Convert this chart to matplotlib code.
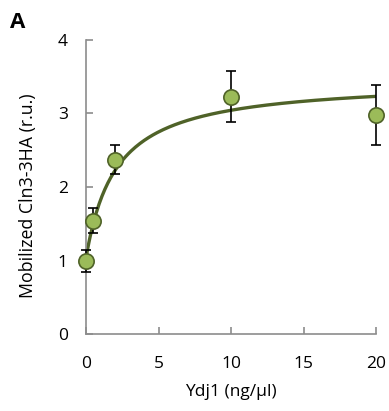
import numpy as np
import matplotlib.pyplot as plt

plt.rcParams['font.family'] = ['Open Sans', 'DejaVu Sans']

# measured points
ydj1 = [0, 0.5, 2, 10, 20]
mobilized = [1.0, 1.54, 2.37, 3.23, 2.98]
err = [0.15, 0.17, 0.2, 0.35, 0.41]

# hyperbolic fit: y = base + bmax*x/(kd+x)
fit_base, fit_bmax, fit_kd = 1.03, 2.43, 2.07

fig = plt.figure(figsize=(3.89, 4.11), dpi=100)
ax = fig.add_axes([0.221, 0.187, 0.746, 0.716])

xs = np.linspace(0, 20, 200)
ax.plot(xs, fit_base + fit_bmax * xs / (fit_kd + xs), color='#4F6228', lw=2.4, zorder=2)
ax.errorbar(ydj1, mobilized, yerr=err, fmt='none', ecolor='black', elinewidth=1.2,
            capsize=3.5, capthick=1.2, zorder=3, clip_on=False)
ax.plot(ydj1, mobilized, 'o', ms=11, mfc='#9BBB59', mec='#4F6228', mew=1.2,
        zorder=4, clip_on=False)

ax.set_xlim(0, 20)
ax.set_ylim(0, 4)
ax.set_xticks([0, 5, 10, 15, 20])
ax.set_yticks([0, 1, 2, 3, 4])
for s in ['top', 'right']:
    ax.spines[s].set_visible(False)
for s in ['left', 'bottom']:
    ax.spines[s].set_color('#8c8c8c')
    ax.spines[s].set_linewidth(1.2)
ax.tick_params(axis='both', direction='in', length=5, width=1.2, color='#8c8c8c',
               labelsize=12.5)
ax.tick_params(axis='y', pad=13)
ax.tick_params(axis='x', pad=15.5)

ax.set_xlabel('Ydj1 (ng/µl)', fontsize=12.5, labelpad=9)
ax.set_ylabel('Mobilized Cln3-3HA (r.u.)', fontsize=12.8)
ax.yaxis.set_label_coords(-0.17, 0.47)
fig.text(0.026, 0.945, 'A', fontsize=16, fontweight='bold', va='center')

plt.savefig('out.png', dpi=100)
